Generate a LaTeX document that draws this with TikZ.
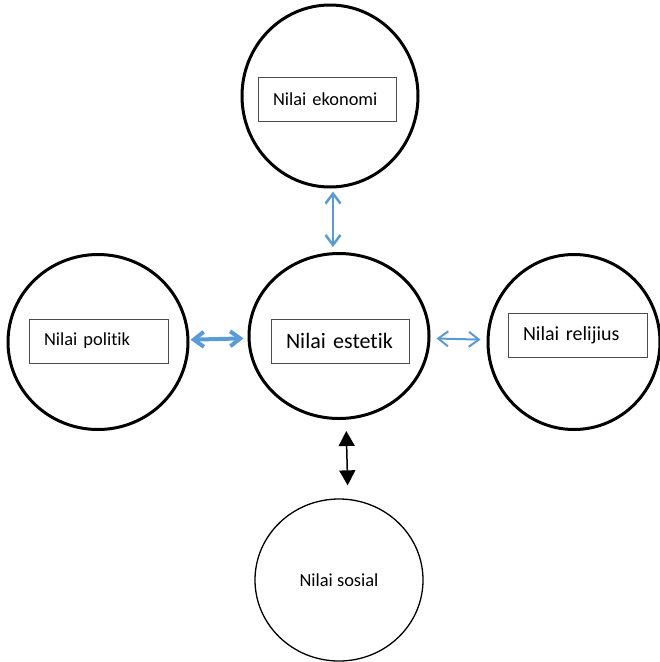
\documentclass[tikz,border=0pt]{standalone}
\usepackage{fontspec}
\setmainfont{Carlito}[Ligatures={NoCommon}]
\usetikzlibrary{arrows.meta,shapes.geometric}
\definecolor{arrblue}{RGB}{91,155,213}

\begin{document}
\begin{tikzpicture}[x=1pt,y=-1pt,
  bigc/.style={draw,ellipse,line width=3pt,inner sep=0pt},
  lbl/.style={draw=black!70,line width=0.9pt,inner xsep=15pt,inner ysep=0pt,minimum height=44pt,text width=#1,align=left},
  barb/.style={draw=arrblue,{Straight Barb[length=10pt,width=15pt]}-{Straight Barb[length=10pt,width=15pt]}},
  fs/.style={font=\fontsize{#1}{#1}\selectfont}]
\useasboundingbox(0,0)rectangle(660,662);
\node[bigc,minimum width=176pt,minimum height=182pt](eko)at(330,96){};
\node[bigc,minimum width=180pt,minimum height=175pt](pol)at(98,342){};
\node[bigc,minimum width=180pt,minimum height=165pt](est)at(339,336){};
\node[bigc,minimum width=172pt,minimum height=175pt](rel)at(574,342){};
\node[draw,ellipse,line width=1.3pt,inner sep=0pt,minimum width=168pt,minimum height=162pt,fs=18.4](sos)at(339,580){Nilai sosial};
\node[lbl=108pt,fs=18.4](ekobox)at(327,99){Nilai ekonomi};
\node[lbl=109pt,fs=18.4](polbox)at(98.5,341){Nilai politik};
\node[lbl=108pt,fs=22](estbox)at(340,341){Nilai estetik};
\node[lbl=109pt,fs=20](relbox)at(577.5,335){Nilai relijius};
\draw[barb,line width=2.5pt,shorten <=3pt,shorten >=5pt]([xshift=3pt]eko.south)--([xshift=-6pt]est.north);
\draw[barb,line width=4pt,shorten <=1pt,shorten >=4pt](pol)--(est);
\draw[barb,line width=2pt,shorten <=6pt,shorten >=6pt](est)--(rel);
\draw[line width=1.5pt,{Triangle[length=15pt,width=16pt]}-{Triangle[length=15pt,width=16pt]},shorten <=11pt,shorten >=13pt]([xshift=7pt]est.south)--([xshift=9pt]sos.north);
\end{tikzpicture}
\end{document}
